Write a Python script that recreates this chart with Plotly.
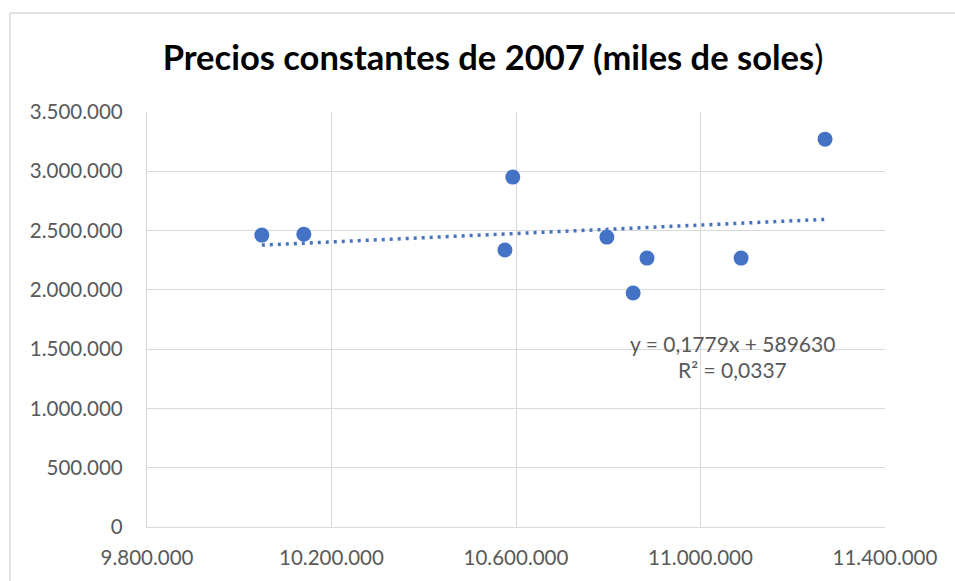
import plotly.graph_objects as go

# Data
x_vals = [10049000, 10140000, 10576000, 10593000, 10797000, 10854000, 10884000, 11088000, 11270000]
y_vals = [2462000, 2470000, 2336000, 2951000, 2445000, 1973000, 2268000, 2268000, 3271000]

trend_slope = 0.1779
trend_intercept = 589630
eq_text = "y = 0,1779x + 589630"
r2_text = "R² = 0,0337"

x_ticks = [9800000, 10200000, 10600000, 11000000, 11400000]
y_ticks = [0, 500000, 1000000, 1500000, 2000000, 2500000, 3000000, 3500000]

title_text = "<b>Precios constantes de 2007 (miles de soles</b>)"

FONT = "Lato, Carlito, Calibri, sans-serif"
GRID = "#d9d9d9"
TXT = "#595959"
BLUE = "#4472C4"

fig = go.Figure()

tx = [min(x_vals), max(x_vals)]
ty = [trend_slope * v + trend_intercept for v in tx]
fig.add_trace(go.Scatter(x=tx, y=ty, mode="lines",
                         line=dict(color=BLUE, width=3.5, dash="3px,5px"),
                         hoverinfo="skip", showlegend=False))
fig.add_trace(go.Scatter(x=x_vals, y=y_vals, mode="markers",
                         marker=dict(color=BLUE, size=15),
                         showlegend=False))

W, H = 955, 581
L, R, T, B = 147, 885, 112, 527
pw, ph = R - L, B - T

def px2paper_x(px):
    return (px - L) / pw

def px2paper_y(py):
    return (B - py) / ph

fig.update_layout(
    width=W, height=H,
    margin=dict(l=L, r=W - R, t=T, b=H - B, pad=0),
    paper_bgcolor="white", plot_bgcolor="white",
    separators=",.",
    font=dict(family=FONT, color=TXT, size=20),
    title=dict(text=title_text, x=px2paper_x(493), xref="paper", xanchor="center",
               y=1 - 58 / H, yanchor="middle",
               font=dict(family=FONT, size=34.5, color="black")),
    xaxis=dict(range=[9800000, 11400000], tickvals=x_ticks, tickformat=",d",
               showgrid=True, gridcolor=GRID, gridwidth=1.3,
               zeroline=False, showline=True, linecolor=GRID, linewidth=1.3,
               ticks="", ticklabelstandoff=12, tickfont=dict(size=20.5, color=TXT)),
    yaxis=dict(range=[0, 3500000], tickvals=y_ticks, tickformat=",d",
               showgrid=True, gridcolor=GRID, gridwidth=1.3,
               zeroline=False, showline=True, linecolor=GRID, linewidth=1.3,
               ticks="", ticklabelstandoff=19, tickfont=dict(size=20.5, color=TXT)),
    annotations=[
        dict(text=eq_text, xref="paper", yref="paper", x=px2paper_x(732), y=px2paper_y(343),
             xanchor="center", yanchor="middle", showarrow=False,
             font=dict(family=FONT, size=21, color=TXT)),
        dict(text=r2_text, xref="paper", yref="paper", x=px2paper_x(732), y=px2paper_y(369),
             xanchor="center", yanchor="middle", showarrow=False,
             font=dict(family=FONT, size=21, color=TXT)),
    ],
    shapes=[
        dict(type="line", xref="paper", yref="paper",
             x0=px2paper_x(10), x1=px2paper_x(10), y0=px2paper_y(13), y1=px2paper_y(600),
             line=dict(color=GRID, width=1.5)),
        dict(type="line", xref="paper", yref="paper",
             x0=px2paper_x(10), x1=px2paper_x(960), y0=px2paper_y(13), y1=px2paper_y(13),
             line=dict(color=GRID, width=1.5)),
    ],
)

fig.write_html("out.html", config={"displayModeBar": False},
               post_script="document.body.style.margin='0px';document.body.style.overflow='hidden';")
